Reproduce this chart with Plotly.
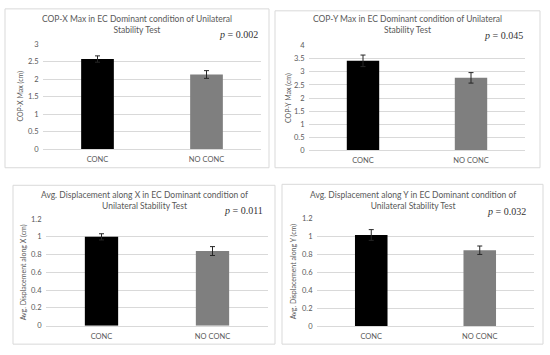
import plotly.graph_objects as go

W, H = 550, 355

categories = ["CONC", "NO CONC"]

copx_max = [2.57, 2.13]
copx_err = [0.09, 0.11]
copy_max = [3.42, 2.77]
copy_err = [0.22, 0.20]
disp_x = [1.00, 0.84]
disp_x_err = [0.035, 0.05]
disp_y = [1.015, 0.845]
disp_y_err = [0.06, 0.047]

titles = [
    "COP-X Max in EC Dominant condition of Unilateral<br>Stability Test",
    "COP-Y Max in EC Dominant condition of Unilateral<br>Stability Test",
    "Avg. Displacement along X in EC Dominant condition of<br>Unilateral Stability Test",
    "Avg. Displacement along Y in EC Dominant condition of<br>Unilateral Stability Test",
]
ytitles = ["COP-X Max (cm)", "COP-Y Max (cm)",
           "Avg. Displacement along X (cm)", "Avg. Displacement along Y (cm)"]
pvalues = ["0.002", "0.045", "0.011", "0.032"]
yranges = [(0, 3, 0.5), (0, 4, 0.5), (0, 1.2, 0.2), (0, 1.2, 0.2)]
series = [(copx_max, copx_err), (copy_max, copy_err), (disp_x, disp_x_err), (disp_y, disp_y_err)]

# layout in pixels: box (x0,y0,x1,y1), plot (x0,y0,x1,y1), title y, p pos, ylabel x
panels = [
    dict(box=(5, 5, 269, 168), plot=(43, 41, 261, 149), ty=21, px=(260, 31), yl=21),
    dict(box=(275, 7, 540, 168), plot=(309, 42.7, 525, 150.3), ty=21, px=(525, 32), yl=288),
    dict(box=(13, 186, 275, 349), plot=(46, 220.7, 268, 330), ty=202, px=(265, 212), yl=23),
    dict(box=(282, 185, 543, 349), plot=(317, 220, 534, 330.3), ty=202, px=(528, 213), yl=293),
]

def fx(p):
    return p / W

def fy(p):
    return 1 - p / H

FONT = "Lato, 'Open Sans', sans-serif"
GREY = "#595959"

fig = go.Figure()
layout = dict(width=W, height=H, margin=dict(l=0, r=0, t=0, b=0),
              paper_bgcolor="white", plot_bgcolor="white", showlegend=False,
              shapes=[], annotations=[])

for i, (pn, (vals, errs)) in enumerate(zip(panels, series)):
    n = "" if i == 0 else str(i + 1)
    x0, y0, x1, y1 = pn["plot"]
    fig.add_trace(go.Bar(
        x=categories, y=vals, width=0.3,
        marker=dict(color=["#000000", "#7f7f7f"], line=dict(width=0)),
        error_y=dict(type="data", array=errs, visible=True, color="#262626",
                     thickness=1, width=2.5),
        xaxis="x" + n, yaxis="y" + n,
    ))
    lo, hi, dt = yranges[i]
    layout["xaxis" + n] = dict(domain=[fx(x0), fx(x1)], anchor="y" + n,
                               showline=True, linecolor="#d9d9d9", linewidth=1,
                               showgrid=False, tickfont=dict(family=FONT, size=7.5, color=GREY),
                               ticks="outside", ticklen=3, tickcolor="rgba(0,0,0,0)",
                               fixedrange=True)
    layout["yaxis" + n] = dict(domain=[fy(y1), fy(y0)], anchor="x" + n,
                               range=[lo, hi], dtick=dt, tick0=0,
                               showgrid=True, gridcolor="#d9d9d9", gridwidth=1,
                               zeroline=False, showline=False,
                               tickfont=dict(family=FONT, size=7.5, color=GREY),
                               ticks="outside", ticklen=2, tickcolor="rgba(0,0,0,0)",
                               fixedrange=True)
    bx0, by0, bx1, by1 = pn["box"]
    layout["shapes"].append(dict(type="rect", xref="paper", yref="paper",
                                 x0=fx(bx0), x1=fx(bx1), y0=fy(by1), y1=fy(by0),
                                 line=dict(color="#d9d9d9", width=1)))
    layout["annotations"].append(dict(
        text=titles[i], xref="paper", yref="paper",
        x=fx((bx0 + bx1) / 2), y=fy(pn["ty"]), xanchor="center", yanchor="middle",
        showarrow=False, font=dict(family=FONT, size=8.5, color=GREY), align="center"))
    layout["annotations"].append(dict(
        text="<i>p</i> = " + pvalues[i], xref="paper", yref="paper",
        x=fx(pn["px"][0]), y=fy(pn["px"][1]), xanchor="right", yanchor="middle",
        showarrow=False, font=dict(family="'Liberation Serif', 'Times New Roman', serif",
                                   size=10, color="#333333")))
    layout["annotations"].append(dict(
        text=ytitles[i], xref="paper", yref="paper", textangle=-90,
        x=fx(pn["yl"]), y=fy((y0 + y1) / 2), xanchor="center", yanchor="middle",
        showarrow=False, font=dict(family=FONT, size=7, color=GREY)))

fig.update_layout(**layout)
fig.write_html("out.html", config={"displayModeBar": False},
               post_script="document.body.style.margin='0';")
